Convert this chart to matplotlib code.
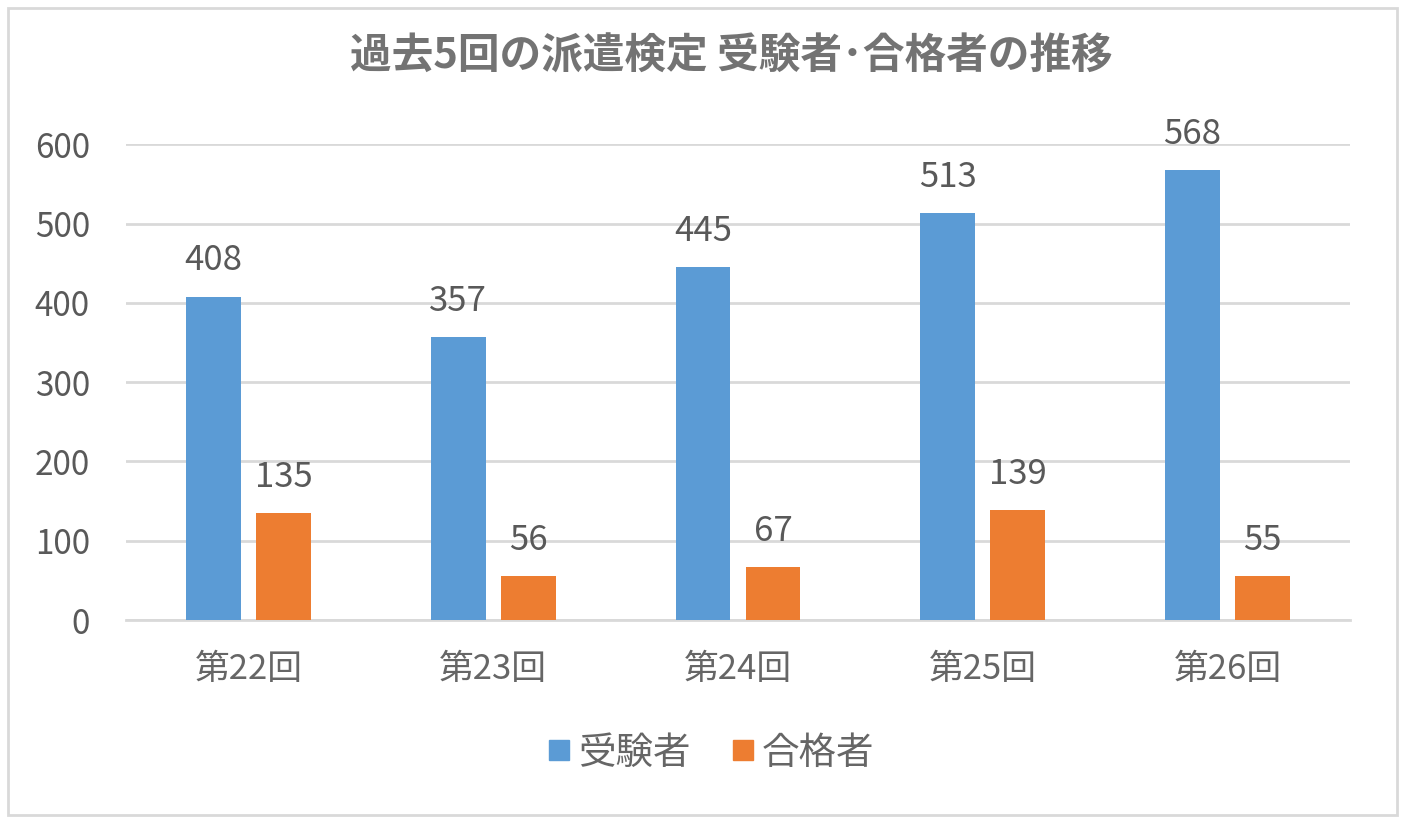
import matplotlib
matplotlib.use("Agg")
import matplotlib.pyplot as plt
from matplotlib.lines import Line2D
from matplotlib.patches import Rectangle
import numpy as np

plt.rcParams['font.family'] = ['Noto Sans CJK JP', 'DejaVu Sans']

# data
categories = ['第22回', '第23回', '第24回', '第25回', '第26回']
examinees = [408, 357, 445, 513, 568]
passers = [135, 56, 67, 139, 55]
series_names = ['受験者', '合格者']
title = '過去5回の派遣検定 受験者･合格者の推移'

blue = '#5B9BD5'
orange = '#ED7D31'
grid_col = '#D9D9D9'
text_col = '#595959'

fig = plt.figure(figsize=(14.04, 8.23), dpi=100)
ax = fig.add_axes([126 / 1404, 1 - 620 / 823, 1224 / 1404, (620 - 144.3) / 823])

x = np.arange(len(categories))
w = 0.2245
off = 0.143
bars1 = ax.bar(x - off, examinees, width=w, color=blue, zorder=3)
bars2 = ax.bar(x + off, passers, width=w, color=orange, zorder=3)

for bars, vals in [(bars1, examinees), (bars2, passers)]:
    for b, v in zip(bars, vals):
        ax.annotate(str(v), (b.get_x() + b.get_width() / 2, v), xytext=(0, 13),
                    textcoords='offset points', ha='center', va='bottom',
                    fontsize=25, color=text_col)

ax.set_xlim(-0.5, len(categories) - 0.5)
ax.set_ylim(0, 600)
ax.set_yticks(range(0, 601, 100))
ax.set_xticks(x)
ax.set_xticklabels(categories)
ax.tick_params(axis='y', length=0, pad=26, labelsize=24, labelcolor=text_col)
ax.tick_params(axis='x', length=0, pad=23, labelsize=25, labelcolor='#666666')
ax.grid(axis='y', color=grid_col, linewidth=2, zorder=0)
for s in ['top', 'right', 'left']:
    ax.spines[s].set_visible(False)
ax.spines['bottom'].set_color(grid_col)
ax.spines['bottom'].set_linewidth(2)

fig.text(731 / 1404, 1 - 57 / 823, title, ha='center', va='center',
         fontsize=30, fontweight='bold', color='#737373')

handles = [Line2D([], [], marker='s', linestyle='none', markersize=14.5, color=c)
           for c in (blue, orange)]
fig.legend(handles, series_names, loc='center', ncol=2,
           bbox_to_anchor=(707 / 1404, 1 - 753 / 823), frameon=False,
           fontsize=27, labelcolor='#666666', handletextpad=0.0,
           columnspacing=0.9, handlelength=1.0)

fig.add_artist(Rectangle((8 / 1404, 8 / 823), 1389 / 1404, 807 / 823,
                         transform=fig.transFigure, fill=False,
                         edgecolor=grid_col, linewidth=2))

fig.savefig('out.png', dpi=100)
